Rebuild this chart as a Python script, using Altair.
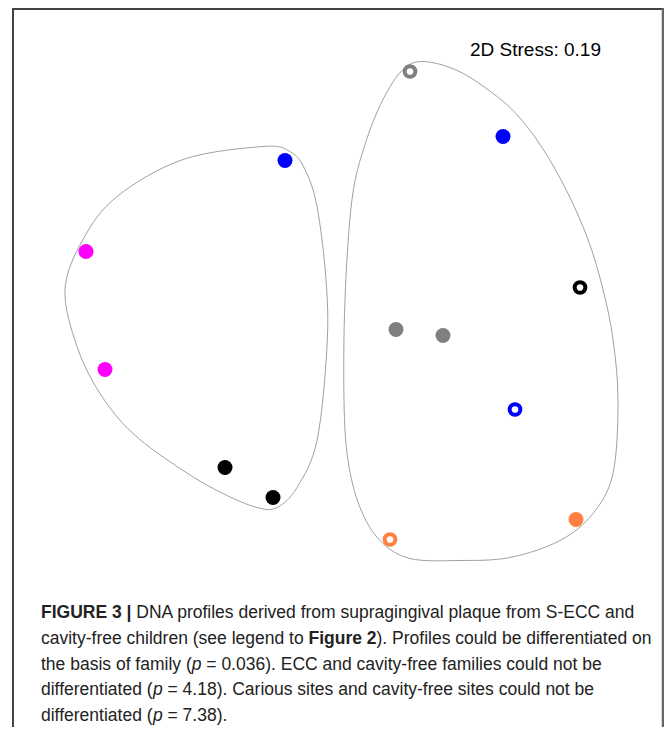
import altair as alt
import pandas as pd

# ---------------- data (NMDS ordination, arbitrary units) ----------------
pt_x = [0.74, 1.67, -0.51, -2.50, 2.44, 0.60, 1.07, -2.31, 1.79, -1.11, -0.63, 2.40, 0.54]
pt_y = [2.96, 2.31, 2.07, 1.16, 0.80, 0.38, 0.32, -0.02, -0.42, -1.00, -1.30, -1.52, -1.72]
pt_family = ["F4", "F2", "F2", "F1", "F3", "F4", "F4", "F1", "F2", "F3", "F3", "F5", "F5"]
pt_site = ["Cavity-free", "S-ECC", "S-ECC", "S-ECC", "Cavity-free", "S-ECC", "S-ECC",
           "S-ECC", "Cavity-free", "S-ECC", "S-ECC", "S-ECC", "Cavity-free"]

families = ["F1", "F2", "F3", "F4", "F5"]
family_colors = ["#ff00ff", "#0000ff", "#000000", "#808080", "#ff8040"]

# cluster outlines (smoothed hulls)
hull_a_x = [-0.73, -0.46, -0.31, -0.19, -0.10, -0.09, -0.19, -0.39, -0.59, -0.79,
            -1.13, -1.53, -2.03, -2.36, -2.59, -2.71, -2.53, -2.19, -1.53]
hull_a_y = [2.21, 2.16, 1.98, 1.61, 0.88, 0.21, -0.73, -1.20, -1.40, -1.40,
            -1.26, -1.03, -0.66, -0.26, 0.21, 0.78, 1.28, 1.71, 2.08]
hull_b_x = [0.87, 1.19, 1.49, 1.79, 2.06, 2.31, 2.52, 2.67, 2.77, 2.82, 2.77, 2.57, 2.24,
            1.74, 1.24, 0.74, 0.44, 0.24, 0.12, 0.08, 0.09, 0.16, 0.29, 0.47, 0.67]
hull_b_y = [3.06, 2.98, 2.80, 2.55, 2.20, 1.76, 1.28, 0.78, 0.28, -0.33, -1.06, -1.46, -1.73,
            -1.90, -1.93, -1.91, -1.73, -1.40, -0.93, -0.33, 0.68, 1.68, 2.23, 2.68, 2.98]

stress_label = "2D Stress: 0.19"

# ---------------- tables ----------------
points = pd.DataFrame({"x": pt_x, "y": pt_y, "family": pt_family, "site": pt_site})
hulls = pd.DataFrame({
    "hull": ["A"] * len(hull_a_x) + ["B"] * len(hull_b_x),
    "idx": list(range(len(hull_a_x))) + list(range(len(hull_b_x))),
    "x": hull_a_x + hull_b_x,
    "y": hull_a_y + hull_b_y,
})

W, H = 656, 719
xs = alt.Scale(domain=[-3.28, 3.28], nice=False, zero=False)
ys = alt.Scale(domain=[-3.595, 3.595], nice=False, zero=False)
X = alt.X("x:Q", scale=xs, axis=None)
Y = alt.Y("y:Q", scale=ys, axis=None)
col = alt.Color("family:N", scale=alt.Scale(domain=families, range=family_colors), legend=None)

hull_layer = alt.Chart(hulls).mark_line(
    interpolate="cardinal-closed", color="#a0a0a0", strokeWidth=1
).encode(x=X, y=Y, detail="hull:N", order="idx:Q")

filled_layer = alt.Chart(points).transform_filter(
    alt.datum.site == "S-ECC"
).mark_point(shape="circle", filled=True, size=225, opacity=1).encode(x=X, y=Y, color=col)

open_layer = alt.Chart(points).transform_filter(
    alt.datum.site == "Cavity-free"
).mark_point(shape="circle", filled=False, size=115, strokeWidth=4, opacity=1).encode(x=X, y=Y, color=col)

one = alt.Data(values=[{"k": 1}])
FRAME = "#444444"
frame = [
    alt.Chart(one).mark_rule(color=FRAME, strokeWidth=2).encode(
        x=alt.value(5), x2=alt.value(655), y=alt.value(1)),
    alt.Chart(one).mark_rule(color=FRAME, strokeWidth=2).encode(
        x=alt.value(5), y=alt.value(0), y2=alt.value(H)),
    alt.Chart(one).mark_rule(color="#666666", strokeWidth=2.5).encode(
        x=alt.value(655), y=alt.value(0), y2=alt.value(H)),
]

FONT = "Liberation Sans"
stress = alt.Chart(one).mark_text(
    align="left", baseline="alphabetic", font=FONT, fontSize=19, color="#000000"
).encode(x=alt.value(462), y=alt.value(48), text=alt.value(stress_label))

# ---------------- caption (mixed styles) ----------------
REG = dict(zip("abcdefghijklmnopqrstuvwxyz",
               [556, 556, 500, 556, 556, 278, 556, 556, 222, 222, 500, 222, 833,
                556, 556, 556, 556, 333, 500, 278, 556, 500, 722, 500, 500, 500]))
REG.update({" ": 278, "(": 333, ")": 333, ".": 278, "-": 333, "|": 260, "=": 584})
BOLD = {"F": 611, "I": 278, "G": 778, "U": 722, "R": 722, "E": 667, "3": 556, " ": 278,
        "|": 280, "i": 278, "g": 611, "u": 611, "r": 389, "e": 556, "2": 556}
ITAL = {"p": 556}

CS = 17.5
def wid(s, table):
    return sum(table.get(c, 556) for c in s) / 1000.0 * CS

cap_lines = [
    [("FIGURE 3 |", "bold"), (" DNA profiles derived from supragingival plaque from S-ECC and", "normal")],
    [("cavity-free children (see legend to ", "normal"), ("Figure 2", "bold"),
     ("). Profiles could be differentiated on", "normal")],
    [("the basis of family (", "normal"), ("p", "italic"),
     (" = 0.036). ECC and cavity-free families could not be", "normal")],
    [("differentiated (", "normal"), ("p", "italic"),
     (" = 4.18). Carious sites and cavity-free sites could not be", "normal")],
    [("differentiated (", "normal"), ("p", "italic"), (" = 7.38).", "normal")],
]

cap_x0 = 33
cap_y0 = 610
cap_dy = 25.8
caption = []
for li, segs in enumerate(cap_lines):
    xpos = cap_x0
    for txt, sty in segs:
        table = BOLD if sty == "bold" else (ITAL if sty == "italic" else REG)
        lead = len(txt) - len(txt.lstrip(" "))
        xpos += lead * 278 / 1000.0 * CS
        core = txt.strip(" ")
        kw = dict(align="left", baseline="alphabetic", font=FONT, fontSize=CS, color="#222222")
        if sty == "bold":
            kw["fontWeight"] = "bold"
        if sty == "italic":
            kw["fontStyle"] = "italic"
        caption.append(alt.Chart(one).mark_text(**kw).encode(
            x=alt.value(round(xpos, 1)), y=alt.value(round(cap_y0 + li * cap_dy, 1)),
            text=alt.value(core)))
        xpos += wid(core, table)
        trail = len(txt) - len(txt.rstrip(" "))
        xpos += trail * 278 / 1000.0 * CS

chart = alt.layer(
    hull_layer, filled_layer, open_layer, *frame, stress, *caption
).properties(
    width=W, height=H, padding=0, autosize=alt.AutoSizeParams(type="none"),
    background="#ffffff"
).configure_view(stroke=None)

chart.save("out.html", embed_options={"renderer": "svg", "actions": False})
